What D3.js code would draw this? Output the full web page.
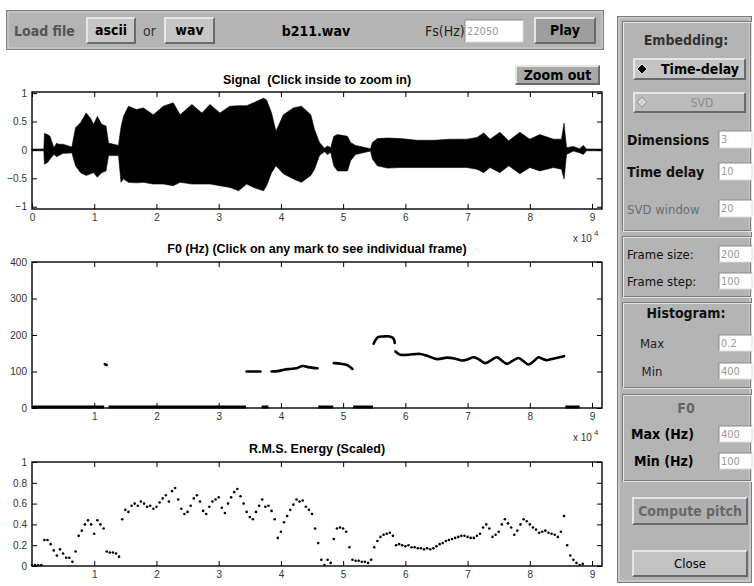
<!DOCTYPE html>
<html>
<head>
<meta charset="utf-8">
<script src="https://cdn.jsdelivr.net/npm/d3@7"></script>
<style>
body { margin: 0; background: #fff; }
svg { display: block; }
.gui text { font-family: "Liberation Sans Narrow", "DejaVu Sans Condensed", Arial, sans-serif; dominant-baseline: central; }
.ax text { font-family: "Liberation Sans", Arial, Helvetica, sans-serif; font-size: 10px; fill: #333; }
.ttl { font-family: "Liberation Sans", Arial, Helvetica, sans-serif; font-size: 12.5px; font-weight: bold; white-space: pre; }
</style>
</head>
<body>
<div id="chart"></div>
<script>
// ---------- data (time in units of 10^4 samples) ----------
const xTicks1 = [0, 1, 2, 3, 4, 5, 6, 7, 8, 9];
const xTicks2 = [1, 2, 3, 4, 5, 6, 7, 8, 9];
const sigTicks = [-1, -0.5, 0, 0.5, 1];
const f0Ticks = [0, 100, 200, 300, 400];
const rmsTicks = [0, 0.2, 0.4, 0.6, 0.8, 1];

// signal envelope: time, upper, lower
const sigT  = [0.00, 0.19, 0.20, 0.25, 0.29, 0.35, 0.40, 0.43, 0.50, 0.56, 0.64, 0.70, 0.78, 0.87, 0.94, 0.99, 1.05, 1.12, 1.19, 1.23, 1.39, 1.43, 1.47, 1.55, 1.68, 1.79, 1.95, 2.11, 2.27, 2.38, 2.57, 2.73, 2.86, 3.02, 3.18, 3.32, 3.45, 3.56, 3.72, 3.77, 3.85, 3.92, 4.04, 4.20, 4.33, 4.48, 4.54, 4.62, 4.70, 4.75, 4.80, 4.85, 4.91, 5.07, 5.12, 5.20, 5.44, 5.47, 5.55, 5.71, 5.92, 6.19, 6.46, 6.72, 6.99, 7.15, 7.26, 7.36, 7.52, 7.66, 7.84, 8.00, 8.16, 8.38, 8.51, 8.55, 8.59, 8.70, 8.80, 8.86, 8.91, 9.16];
const sigUp = [0.015, 0.015, 0.29, 0.27, 0.24, 0.04, 0.12, 0.10, 0.10, 0.08, 0.05, 0.39, 0.48, 0.65, 0.56, 0.45, 0.59, 0.45, 0.42, 0.12, 0.08, 0.40, 0.59, 0.77, 0.71, 0.74, 0.62, 0.77, 0.83, 0.62, 0.80, 0.65, 0.80, 0.65, 0.77, 0.78, 0.78, 0.83, 0.91, 0.88, 0.65, 0.33, 0.62, 0.74, 0.77, 0.62, 0.36, 0.13, 0.03, 0.07, 0.04, 0.24, 0.27, 0.24, 0.13, 0.08, 0.02, 0.13, 0.20, 0.21, 0.20, 0.17, 0.17, 0.19, 0.19, 0.22, 0.30, 0.19, 0.31, 0.16, 0.31, 0.19, 0.27, 0.19, 0.19, 0.47, 0.04, 0.06, 0.02, 0.08, 0.015, 0.015];
const sigLo = [-0.015, -0.015, -0.25, -0.22, -0.16, -0.08, -0.12, -0.10, -0.06, -0.06, -0.05, -0.28, -0.40, -0.45, -0.42, -0.40, -0.48, -0.40, -0.37, -0.10, -0.10, -0.57, -0.51, -0.57, -0.58, -0.57, -0.60, -0.60, -0.63, -0.57, -0.60, -0.60, -0.60, -0.63, -0.66, -0.72, -0.60, -0.66, -0.72, -0.63, -0.40, -0.28, -0.42, -0.51, -0.57, -0.45, -0.34, -0.10, -0.03, -0.08, -0.04, -0.28, -0.37, -0.37, -0.19, -0.08, -0.02, -0.16, -0.28, -0.32, -0.31, -0.31, -0.31, -0.31, -0.31, -0.34, -0.40, -0.31, -0.40, -0.28, -0.42, -0.31, -0.37, -0.31, -0.34, -0.51, -0.08, -0.02, -0.05, -0.08, -0.015, -0.015];

// F0 voiced segments: [time, Hz]
const f0Seg1 = [[1.17, 120], [1.20, 118]];
const f0Seg2 = [[3.45, 100], [3.56, 100], [3.67, 100]];
const f0Seg3 = [[3.85, 100], [3.95, 101], [4.05, 105], [4.15, 107], [4.25, 109], [4.35, 115], [4.43, 112], [4.52, 110], [4.59, 109]];
const f0Seg4 = [[4.85, 123], [4.96, 121], [5.07, 117], [5.15, 107]];
const f0Seg5 = [[5.49, 176], [5.56, 194], [5.65, 196], [5.75, 196], [5.81, 190], [5.83, 178]];
const f0Seg6 = [[5.84, 155], [5.92, 146], [6.05, 146], [6.24, 148], [6.35, 143], [6.51, 134], [6.67, 138], [6.80, 135], [6.91, 130], [7.00, 133], [7.10, 139], [7.20, 131], [7.28, 123], [7.38, 131], [7.47, 139], [7.55, 130], [7.63, 121], [7.72, 129], [7.82, 137], [7.90, 128], [7.98, 119], [8.06, 128], [8.14, 139], [8.20, 135], [8.27, 131], [8.35, 134], [8.43, 137], [8.55, 142]];
// unvoiced frames (F0 = 0): [start, end]
const f0Zero = [[0, 1.16], [1.23, 3.44], [3.69, 3.80], [4.60, 4.84], [5.16, 5.48], [8.57, 8.80]];

// RMS energy, one value every 0.05 x 10^4 samples
const rmsStep = 0.05;
const rmsVal = [0.01, 0.01, 0.01, 0.01, 0.25, 0.25, 0.21, 0.15, 0.10, 0.16, 0.12, 0.08, 0.08, 0.04, 0.14, 0.29, 0.34, 0.40, 0.44, 0.40,
  0.31, 0.44, 0.40, 0.36, 0.14, 0.13, 0.13, 0.12, 0.09, 0.45, 0.54, 0.52, 0.58, 0.60, 0.58, 0.62, 0.60, 0.57, 0.58, 0.55,
  0.57, 0.61, 0.65, 0.68, 0.62, 0.72, 0.75, 0.64, 0.55, 0.50, 0.52, 0.58, 0.65, 0.68, 0.62, 0.53, 0.50, 0.57, 0.62, 0.64,
  0.66, 0.56, 0.51, 0.60, 0.66, 0.71, 0.74, 0.67, 0.60, 0.52, 0.47, 0.45, 0.52, 0.58, 0.64, 0.57, 0.58, 0.53, 0.45, 0.27,
  0.33, 0.42, 0.48, 0.54, 0.59, 0.64, 0.62, 0.63, 0.57, 0.54, 0.50, 0.36, 0.22, 0.06, 0.01, 0.06, 0.03, 0.26, 0.36, 0.37,
  0.36, 0.33, 0.18, 0.06, 0.05, 0.05, 0.04, 0.04, 0.03, 0.06, 0.18, 0.24, 0.28, 0.30, 0.31, 0.32, 0.29, 0.20, 0.21, 0.20,
  0.19, 0.20, 0.18, 0.18, 0.17, 0.17, 0.16, 0.17, 0.16, 0.17, 0.19, 0.21, 0.22, 0.24, 0.25, 0.26, 0.27, 0.28, 0.29, 0.29,
  0.28, 0.27, 0.27, 0.29, 0.31, 0.37, 0.40, 0.36, 0.28, 0.30, 0.33, 0.40, 0.45, 0.41, 0.37, 0.30, 0.34, 0.40, 0.45, 0.43,
  0.40, 0.37, 0.35, 0.32, 0.33, 0.34, 0.32, 0.31, 0.30, 0.28, 0.33, 0.48, 0.20, 0.10, 0.06, 0.03, 0.01, 0.02];

// ---------- svg ----------
const W = 754, H = 586;
const svg = d3.select("#chart").append("svg").attr("width", W).attr("height", H);
svg.append("rect").attr("width", W).attr("height", H).attr("fill", "#fff");

const gui = svg.append("g").attr("class", "gui");

function bevel(g, x, y, w, h, fill, raised, bw) {
  bw = bw || 2;
  const light = raised ? "#e6e6e6" : "#707070";
  const dark = raised ? "#6a6a6a" : "#e6e6e6";
  g.append("rect").attr("x", x).attr("y", y).attr("width", w).attr("height", h).attr("fill", fill);
  g.append("path").attr("fill", light)
    .attr("d", `M${x},${y + h}L${x},${y}L${x + w},${y}L${x + w - bw},${y + bw}L${x + bw},${y + bw}L${x + bw},${y + h - bw}Z`);
  g.append("path").attr("fill", dark)
    .attr("d", `M${x + w},${y}L${x + w},${y + h}L${x},${y + h}L${x + bw},${y + h - bw}L${x + w - bw},${y + h - bw}L${x + w - bw},${y + bw}Z`);
}

function txt(g, x, y, s, size, weight, color, anchor) {
  return g.append("text").attr("x", x).attr("y", y).text(s)
    .style("font-size", size + "px").style("font-weight", weight || "normal")
    .attr("fill", color || "#000").attr("text-anchor", anchor || "start");
}

function etched(g, x, y, w, h) {
  g.append("rect").attr("x", x).attr("y", y).attr("width", w).attr("height", h).attr("fill", "none").attr("stroke", "#7c7c7c");
  g.append("rect").attr("x", x + 1).attr("y", y + 1).attr("width", w).attr("height", h).attr("fill", "none").attr("stroke", "#e2e2e2");
}

function inputBox(g, x, y, w, h, s) {
  g.append("rect").attr("x", x).attr("y", y).attr("width", w).attr("height", h).attr("fill", "#fff");
  g.append("path").attr("d", `M${x},${y + h}L${x},${y}L${x + w},${y}`).attr("stroke", "#8a8a8a").attr("fill", "none");
  g.append("path").attr("d", `M${x + w},${y}L${x + w},${y + h}L${x},${y + h}`).attr("stroke", "#dcdcdc").attr("fill", "none");
  txt(g, x + 2, y + h / 2, s, 11, "normal", "#9a9a9a");
}

// top bar
gui.append("rect").attr("x", 6.5).attr("y", 10.5).attr("width", 597).attr("height", 39)
  .attr("fill", "#b4b4b4").attr("stroke", "#808080");
gui.append("rect").attr("x", 8).attr("y", 12).attr("width", 594).attr("height", 36)
  .attr("fill", "none").attr("stroke", "#d0d0d0");
txt(gui, 14, 31, "Load file", 14, "bold", "#555");
bevel(gui, 86, 17, 50, 27, "#c6c6c6", true);
txt(gui, 111, 30, "ascii", 14, "bold", "#000", "middle");
txt(gui, 143, 31, "or", 14, "normal", "#333");
bevel(gui, 164, 17, 51, 27, "#c6c6c6", true);
txt(gui, 189.5, 30, "wav", 14, "bold", "#000", "middle");
txt(gui, 316, 31, "b211.wav", 14, "bold", "#000", "middle");
txt(gui, 425, 31, "Fs(Hz)", 14, "normal", "#222");
inputBox(gui, 465, 20, 58, 22, "22050");
bevel(gui, 534, 17, 62, 27, "#9e9e9e", true);
txt(gui, 565, 30, "Play", 14, "bold", "#000", "middle");

// zoom out
bevel(gui, 515, 65, 85, 20, "#a8a8a8", true);
txt(gui, 557.5, 75, "Zoom out", 14, "bold", "#000", "middle");

// right panel
gui.append("rect").attr("x", 617.5).attr("y", 16.5).attr("width", 134).attr("height", 566)
  .attr("fill", "#b4b4b4").attr("stroke", "#7c7c7c");
gui.append("rect").attr("x", 619).attr("y", 18).attr("width", 131).attr("height", 563)
  .attr("fill", "none").attr("stroke", "#dadada");

etched(gui, 622.5, 21.5, 128, 209);
txt(gui, 686, 40, "Embedding:", 14, "bold", "#333", "middle");
bevel(gui, 633, 58, 113, 22, "#c4c4c4", true);
gui.append("path").attr("d", "M637,69L642,64L647,69L642,74Z").attr("fill", "#000").attr("stroke", "#fff").attr("stroke-width", 0.8);
txt(gui, 700, 69, "Time-delay", 14, "bold", "#000", "middle");
bevel(gui, 633, 92, 113, 21, "#bcbcbc", true);
gui.append("path").attr("d", "M637,102L642,97L647,102L642,107Z").attr("fill", "#d4d4d4").attr("stroke", "#8a8a8a").attr("stroke-width", 0.8);
txt(gui, 702, 102.5, "SVD", 12, "normal", "#8c8c8c", "middle");
txt(gui, 627, 140, "Dimensions", 14, "bold", "#111");
inputBox(gui, 719, 131, 33, 17, "3");
txt(gui, 627, 172, "Time delay", 14, "bold", "#111");
inputBox(gui, 719, 163, 33, 17, "10");
txt(gui, 627, 209, "SVD window", 13, "normal", "#6e6e6e");
inputBox(gui, 719, 200, 33, 17, "20");

etched(gui, 622.5, 236.5, 128, 60);
txt(gui, 627, 254, "Frame size:", 13, "normal", "#111");
inputBox(gui, 719, 246, 33, 16, "200");
txt(gui, 627, 281, "Frame step:", 13, "normal", "#111");
inputBox(gui, 719, 273, 33, 16, "100");

etched(gui, 622.5, 302.5, 128, 85);
txt(gui, 686, 313, "Histogram:", 14, "bold", "#111", "middle");
txt(gui, 652, 343, "Max", 13, "normal", "#222", "middle");
inputBox(gui, 719, 335, 33, 16, "0.2");
txt(gui, 652, 371, "Min", 13, "normal", "#222", "middle");
inputBox(gui, 719, 363, 33, 16, "400");

etched(gui, 622.5, 394.5, 128, 86);
txt(gui, 686, 408, "F0", 14, "bold", "#666", "middle");
txt(gui, 631, 434, "Max (Hz)", 14, "bold", "#000");
inputBox(gui, 719, 426, 33, 16, "400");
txt(gui, 634, 461, "Min (Hz)", 14, "bold", "#000");
inputBox(gui, 719, 453, 33, 16, "100");

bevel(gui, 632, 497, 116, 28, "#b0b0b0", true);
txt(gui, 690, 511, "Compute pitch", 14, "bold", "#686868", "middle");
bevel(gui, 632, 550, 116, 27, "#c2c2c2", true);
txt(gui, 690, 563.5, "Close", 13, "normal", "#000", "middle");

// ---------- plots ----------
const x = d3.scaleLinear().domain([0, 9.16]).range([32, 602]);
const fmt = d3.format("~g");

function frame(y, xt, yt) {
  const g = svg.append("g").attr("class", "ax");
  const [y0, y1] = y.range();
  g.append("g").attr("transform", `translate(0,${y0})`)
    .call(d3.axisBottom(x).tickValues(xt).tickSizeInner(-5).tickSizeOuter(0).tickPadding(5).tickFormat(fmt));
  g.append("g").attr("transform", `translate(0,${y1})`)
    .call(d3.axisTop(x).tickValues(xt).tickSizeInner(-5).tickSizeOuter(0).tickFormat(""));
  g.append("g").attr("transform", `translate(${x.range()[0]},0)`)
    .call(d3.axisLeft(y).tickValues(yt).tickSizeInner(-5).tickSizeOuter(0).tickPadding(5).tickFormat(fmt));
  g.append("g").attr("transform", `translate(${x.range()[1]},0)`)
    .call(d3.axisRight(y).tickValues(yt).tickSizeInner(-5).tickSizeOuter(0).tickFormat(""));
  g.selectAll(".domain").remove();
  g.selectAll(".tick line").attr("stroke", "#000");
  g.append("rect").attr("x", x.range()[0]).attr("y", y1)
    .attr("width", x.range()[1] - x.range()[0]).attr("height", y0 - y1)
    .attr("fill", "none").attr("stroke", "#000").attr("stroke-width", 1.4);
  return g;
}

function exponent(yb) {
  const g = svg.append("g").attr("class", "ax");
  g.append("text").attr("x", 573).attr("y", yb).text("x 10");
  g.append("text").attr("x", 594).attr("y", yb - 6).text("4").style("font-size", "8px");
}

function title(ty, s) {
  svg.append("text").attr("class", "ttl").attr("x", 317).attr("y", ty)
    .attr("text-anchor", "middle").text(s);
}

// signal
const ySig = d3.scaleLinear().domain([-1.04, 1.02]).range([209, 92]);
const sigArea = d3.area().x((d, i) => x(sigT[i])).y0((d, i) => ySig(sigLo[i])).y1((d, i) => ySig(sigUp[i]));
svg.append("path").datum(sigT).attr("d", sigArea).attr("fill", "#000").attr("stroke", "#000").attr("stroke-width", 0.6);
frame(ySig, xTicks1, sigTicks);
title(84, "Signal  (Click inside to zoom in)");
exponent(242);

// F0
const yF0 = d3.scaleLinear().domain([0, 400]).range([408, 262]);
const f0Line = d3.line().x(d => x(d[0])).y(d => yF0(d[1])).curve(d3.curveCatmullRom);
[f0Seg1, f0Seg2, f0Seg3, f0Seg4, f0Seg5, f0Seg6].forEach(seg => {
  svg.append("path").datum(seg).attr("d", f0Line).attr("fill", "none")
    .attr("stroke", "#000").attr("stroke-width", 2.6).attr("stroke-linecap", "round");
});
svg.selectAll(".f0zero").data(f0Zero).join("line").attr("class", "f0zero")
  .attr("x1", d => x(d[0])).attr("x2", d => x(d[1]))
  .attr("y1", yF0(0) - 1).attr("y2", yF0(0) - 1)
  .attr("stroke", "#000").attr("stroke-width", 3);
frame(yF0, xTicks2, f0Ticks);
title(253, "F0 (Hz) (Click on any mark to see individual frame)");
exponent(441);

// RMS energy
const yRms = d3.scaleLinear().domain([0, 1]).range([566, 462]);
svg.selectAll(".rms").data(rmsVal).join("circle").attr("class", "rms")
  .attr("cx", (d, i) => x(i * rmsStep)).attr("cy", d => yRms(d))
  .attr("r", 1.3).attr("fill", "#000");
frame(yRms, xTicks2, rmsTicks);
title(453, "R.M.S. Energy (Scaled)");
</script>
</body>
</html>
